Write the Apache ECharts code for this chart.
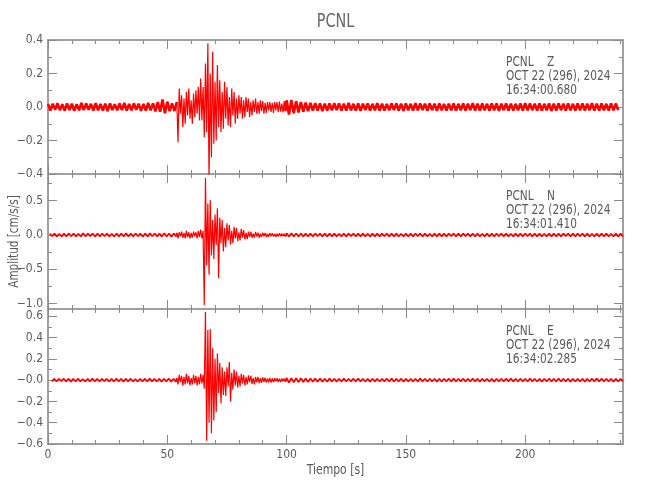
<!DOCTYPE html>
<html><head><meta charset="utf-8">
<script src="https://cdn.jsdelivr.net/npm/echarts@6/dist/echarts.min.js"></script>
<style>html,body{margin:0;padding:0;background:#fff}#c{width:650px;height:500px}</style>
</head><body><div id="c"></div>
<script>
// ---- Z component (start 0 s) ----
const zPre=[0.018,-0.021,0.02,-0.017,0.022,-0.019,0.016,-0.022,0.021,-0.018,
0.02,-0.023,0.017,-0.02,0.024,-0.019,0.021,-0.016,0.019,-0.022,
0.023,-0.02,0.018,-0.021,0.02,-0.024,0.022,-0.018,0.017,-0.02,
0.021,-0.019,0.025,-0.022,0.018,-0.02,0.022,-0.017,0.02,-0.023,
0.019,-0.021,0.024,-0.02,0.022,-0.026,0.03,-0.028,0.045,-0.038,
0.032,-0.025,0.022,-0.024];
const zEvt=[0.03,-0.21,0.11,-0.04,0.07,-0.12,0.05,-0.1,0.09,-0.05,0.11,-0.07,0.04,-0.1,0.08,-0.06,0.1,-0.04,0.12,-0.08,
0.17,-0.08,0.12,-0.18,0.26,-0.15,0.38,-0.44,0.2,-0.3,0.33,-0.22,0.15,-0.2,0.25,-0.12,0.16,-0.15,0.09,-0.13,
0.15,-0.07,0.12,-0.11,0.06,-0.12,0.11,-0.05,0.09,-0.1,0.05,-0.07,0.07,-0.04,0.06,-0.07,0.04,-0.06,0.06,-0.03,
0.05,-0.06,0.03,-0.05,0.04,-0.03,0.05,-0.04,0.03,-0.04,0.04,-0.025,0.035,-0.04,0.025,-0.035,0.03,-0.02,0.03,-0.03,
0.025,-0.035,0.03,-0.02,0.03,-0.03,0.032,-0.028,0.02,-0.033,0.035,-0.025];
const zPost=[0.04,-0.045,0.042,-0.038,0.035,-0.032,0.03,-0.028,0.026,-0.025,
0.024,-0.022,0.023,-0.021,0.022,-0.024,0.02,-0.022,0.021,-0.02,
0.023,-0.019,0.021,-0.022,0.02,-0.021,0.024,-0.02,0.019,-0.022,
0.021,-0.023,0.02,-0.018,0.022,-0.021,0.019,-0.02,0.023,-0.021,
0.02,-0.022,0.018,-0.02,0.021,-0.019,0.022,-0.021,0.02,-0.023,
0.022,-0.02,0.019,-0.021,0.023,-0.02,0.021,-0.018,0.02,-0.022,
0.021,-0.019,0.02,-0.023,0.022,-0.02,0.018,-0.021,0.02,-0.02,
0.022,-0.021,0.019,-0.02,0.021,-0.022,0.02,-0.019,0.023,-0.021,
0.02,-0.022,0.021,-0.02,0.019,-0.021,0.022,-0.02,0.021,-0.023,
0.02,-0.019,0.022,-0.021,0.02,-0.022,0.019,-0.02,0.021,-0.022,
0.023,-0.02,0.021,-0.019,0.02,-0.022,0.022,-0.021,0.019,-0.02,
0.021,-0.023,0.02,-0.021,0.022,-0.019,0.02,-0.022,0.021,-0.02,
0.019,-0.021,0.022,-0.02,0.021,-0.022,0.02,-0.019,0.023,-0.021,
0.02,-0.022,0.021,-0.02,0.019,-0.021,0.022,-0.02,0.021,-0.019];
// ---- N component (start 0.73 s) ----
const nPre=[0.02,-0.018,0.021,-0.02,0.017,-0.022,0.019,-0.02,0.022,-0.018,
0.02,-0.021,0.018,-0.02,0.023,-0.019,0.02,-0.017,0.021,-0.022,
0.019,-0.02,0.022,-0.018,0.02,-0.021,0.018,-0.023,0.021,-0.019,
0.02,-0.022,0.024,-0.02,0.019,-0.021,0.022,-0.018,0.02,-0.024,
0.021,-0.02,0.023,-0.019,0.022,-0.021,0.02,-0.023,0.025,-0.022,
0.021,-0.024,0.022,-0.02];
const nEvt=[0.03,-0.05,0.04,-0.02,0.05,-0.04,0.03,-0.05,0.06,-0.03,0.04,-0.05,0.03,-0.04,0.05,-0.02,0.04,-0.05,0.06,-0.03,0.08,-0.05,0.06,
-1.02,0.83,-0.44,0.46,-0.58,0.51,-0.3,0.22,-0.35,0.3,-0.15,0.39,-0.63,0.25,-0.12,0.22,-0.24,0.1,-0.18,0.17,-0.08,0.15,-0.14,0.06,-0.12,0.12,
-0.05,0.1,-0.09,0.04,-0.08,0.09,-0.04,0.07,-0.06,0.03,-0.06,0.05,-0.03,0.05,-0.04,0.02,-0.04,0.045,-0.025,0.035,-0.04,0.02,-0.03,0.035,
-0.02,0.03,-0.03,0.018,-0.025,0.028,-0.02,0.025,-0.022,0.02,-0.025,0.018,-0.022,0.025,-0.018,0.022,-0.02,0.018,-0.023];
const nPost=[0.024,-0.022,0.023,-0.021,0.022,-0.02,0.021,-0.022,0.02,-0.021,
0.019,-0.021,0.02,-0.018,0.021,-0.02,0.019,-0.021,0.02,-0.019,
0.021,-0.02,0.018,-0.02,0.019,-0.021,0.02,-0.018,0.021,-0.02,
0.019,-0.02,0.021,-0.019,0.018,-0.02,0.021,-0.019,0.02,-0.021,
0.02,-0.018,0.019,-0.021,0.02,-0.019,0.021,-0.02,0.018,-0.02,
0.021,-0.019,0.02,-0.021,0.019,-0.018,0.02,-0.021,0.019,-0.02,
0.018,-0.02,0.021,-0.019,0.02,-0.02,0.019,-0.021,0.02,-0.018,
0.02,-0.021,0.019,-0.02,0.021,-0.018,0.02,-0.019,0.021,-0.02,
0.019,-0.02,0.018,-0.021,0.02,-0.019,0.021,-0.02,0.019,-0.018,
0.02,-0.021,0.019,-0.02,0.018,-0.02,0.021,-0.019,0.02,-0.021,
0.019,-0.018,0.02,-0.021,0.019,-0.02,0.021,-0.019,0.018,-0.02,
0.02,-0.019,0.021,-0.02,0.019,-0.021,0.02,-0.018,0.019,-0.02,
0.021,-0.019,0.02,-0.018,0.02,-0.021,0.019,-0.02,0.018,-0.019,
0.02,-0.021,0.019,-0.02,0.021,-0.019,0.018,-0.02,0.02,-0.021,
0.019,-0.02];
// ---- E component (start 1.6 s) ----
const ePre=[-0.012,0.011,-0.013,0.012,-0.01,0.013,-0.012,0.011,-0.014,0.012,
-0.011,0.013,-0.012,0.01,-0.013,0.012,-0.011,0.014,-0.012,0.011,
-0.013,0.012,-0.01,0.012,-0.013,0.011,-0.012,0.013,-0.011,0.012,
-0.014,0.012,-0.011,0.013,-0.012,0.01,-0.013,0.012,-0.012,0.011,
-0.013,0.014,-0.012,0.011,-0.013,0.012,-0.014,0.013,-0.012,0.015,
-0.014,0.013,-0.016];
const eEvt=[0.02,-0.04,0.05,-0.02,0.04,-0.05,0.03,-0.04,0.06,-0.03,0.04,-0.05,0.02,-0.04,0.05,-0.03,0.04,-0.05,0.03,-0.04,
0.06,-0.03,0.05,-0.08,0.64,-0.57,0.47,-0.4,0.48,-0.5,0.3,-0.38,0.2,-0.3,0.25,-0.12,0.16,-0.22,0.12,-0.14,
0.08,-0.15,0.12,-0.06,0.17,-0.2,0.07,-0.09,0.1,-0.05,0.08,-0.07,0.04,-0.06,0.06,-0.03,0.05,-0.05,0.03,-0.04,
0.045,-0.02,0.04,-0.035,0.02,-0.04,0.03,-0.02,0.03,-0.028,0.018,-0.025,0.025,-0.015,0.022,-0.024,0.015,-0.02,0.02,-0.022,
0.015,-0.018,0.018,-0.012,0.018,-0.017,0.013,-0.018,0.016,-0.012,0.016,-0.015];
const ePost=[0.02,-0.022,0.019,-0.02,0.018,-0.019,0.017,-0.018,0.016,-0.017,
0.015,-0.016,0.014,-0.015,0.016,-0.014,0.013,-0.015,0.014,-0.013,
0.012,-0.014,0.013,-0.012,0.014,-0.013,0.012,-0.011,0.013,-0.012,
0.014,-0.012,0.011,-0.013,0.012,-0.014,0.013,-0.012,0.011,-0.013,
0.012,-0.011,0.013,-0.012,0.014,-0.013,0.012,-0.011,0.013,-0.014,
0.012,-0.013,0.011,-0.012,0.013,-0.012,0.014,-0.011,0.012,-0.013,
0.013,-0.012,0.011,-0.014,0.012,-0.013,0.012,-0.011,0.013,-0.012,
0.014,-0.013,0.012,-0.011,0.013,-0.012,0.011,-0.013,0.014,-0.012,
0.012,-0.014,0.013,-0.012,0.011,-0.013,0.012,-0.014,0.013,-0.012,
0.011,-0.012,0.013,-0.011,0.014,-0.013,0.012,-0.012,0.013,-0.011,
0.012,-0.013,0.014,-0.012,0.011,-0.013,0.012,-0.014,0.013,-0.012,
0.013,-0.011,0.012,-0.013,0.014,-0.012,0.011,-0.012,0.013,-0.014,
0.012,-0.013,0.011,-0.012,0.013,-0.014,0.012,-0.011,0.013,-0.012,
0.014,-0.012,0.013,-0.011,0.012,-0.013,0.011,-0.014,0.012,-0.013,
0.012,-0.011];
// segment start times and sample steps (s)
const zStart=0, nStart=0.73, eStart=1.6, evtStart=54, evtStep=0.5, postStart=100, quietStep=1;
// ---- axis values and labels ----
const xRange=[0,241];
const xMajor=[0,50,100,150,200];
const xMinor=[10,20,30,40,60,70,80,90,110,120,130,140,160,170,180,190,210,220,230,240];
const yRanges=[[-0.4,0.4],[-1.08,0.89],[-0.6,0.668]];
const yMajor=[[-0.4,-0.2,0,0.2,0.4],[-1,-0.5,0,0.5],[-0.6,-0.4,-0.2,0,0.2,0.4,0.6]];
const yMajorLabels=[['\u22120.4','\u22120.2','0.0','0.2','0.4'],['\u22121.0','\u22120.5','0.0','0.5'],['\u22120.6','\u22120.4','\u22120.2','\u22120.0','0.2','0.4','0.6']];
const yMinor=[[-0.3,-0.1,0.1,0.3],[-0.75,-0.25,0.25,0.75],[-0.5,-0.3,-0.1,0.1,0.3,0.5]];
const stationLabels=['PCNL    Z','PCNL    N','PCNL    E'];
const dateLabel='OCT 22 (296), 2024';
const timeLabels=['16:34:00.680','16:34:01.410','16:34:02.285'];
const titleText='PCNL', xName='Tiempo [s]', yName='Amplitud [cm/s/s]';

function seg(t0,step,vals){return vals.map((v,i)=>[Math.round((t0+i*step)*1000)/1000,v]);}
const traceParts=[
  [seg(zStart,quietStep,zPre),seg(evtStart,evtStep,zEvt),seg(postStart,quietStep,zPost)],
  [seg(nStart,quietStep,nPre),seg(evtStart,evtStep,nEvt),seg(postStart,quietStep,nPost)],
  [seg(eStart,quietStep,ePre),seg(evtStart,evtStep,eEvt),seg(postStart,quietStep,ePost)]
];

const FONT="'DejaVu Sans Condensed','DejaVu Sans',sans-serif";
const TXT='#5a5a5a', FRAME='#a0a0a0', TICK='#8a8a8a';
const tops=[40,174,309], heights=[134,135,135], quietWidth=[2.6,1.8,1.8];
const grids=[], xAxes=[], yAxes=[], series=[], graphics=[];
tops.forEach((t,g)=>{
  grids.push({left:48,right:27,top:t,height:heights[g],outerBoundsMode:'none',containLabel:false});
  const base={gridIndex:g,type:'value',min:xRange[0],max:xRange[1],splitLine:{show:false},
    axisLine:{show:false,onZero:false},axisLabel:{show:false}};
  const xi=xAxes.length;
  xAxes.push(Object.assign({},base,{position:'bottom',
    axisLine:{show:true,onZero:false,lineStyle:{color:FRAME,width:2}},
    axisTick:{show:true,inside:true,length:9,customValues:xMajor,lineStyle:{color:TICK,width:1}},
    axisLabel:{show:g===2,customValues:xMajor,margin:5,color:TXT,fontSize:12,fontFamily:FONT}}));
  xAxes.push(Object.assign({},base,{position:'bottom',
    axisTick:{show:true,inside:true,length:4,customValues:xMinor,lineStyle:{color:TICK,width:1}}}));
  xAxes.push(Object.assign({},base,{position:'top',
    axisLine:{show:true,onZero:false,lineStyle:{color:FRAME,width:2}},
    axisTick:{show:true,inside:true,length:9,customValues:xMajor,lineStyle:{color:TICK,width:1}}}));
  xAxes.push(Object.assign({},base,{position:'top',
    axisTick:{show:true,inside:true,length:4,customValues:xMinor,lineStyle:{color:TICK,width:1}}}));
  const yb={gridIndex:g,type:'value',min:yRanges[g][0],max:yRanges[g][1],splitLine:{show:false},
    axisLine:{show:false,onZero:false},axisLabel:{show:false}};
  const yi=yAxes.length;
  const labs=yMajor[g], txt=yMajorLabels[g];
  yAxes.push(Object.assign({},yb,{position:'left',
    axisLine:{show:true,onZero:false,lineStyle:{color:FRAME,width:2}},
    axisTick:{show:true,inside:true,length:9,customValues:yMajor[g],lineStyle:{color:TICK,width:1}},
    axisLabel:{show:true,customValues:yMajor[g],margin:5,color:TXT,fontSize:12,fontFamily:FONT,
      formatter:v=>{const k=labs.findIndex(a=>Math.abs(a-v)<1e-9);return k>=0?txt[k]:'';}}}));
  yAxes.push(Object.assign({},yb,{position:'left',
    axisTick:{show:true,inside:true,length:4,customValues:yMinor[g],lineStyle:{color:TICK,width:1}}}));
  yAxes.push(Object.assign({},yb,{position:'right',
    axisLine:{show:true,onZero:false,lineStyle:{color:FRAME,width:2}},
    axisTick:{show:true,inside:true,length:9,customValues:yMajor[g],lineStyle:{color:TICK,width:1}}}));
  yAxes.push(Object.assign({},yb,{position:'right',
    axisTick:{show:true,inside:true,length:4,customValues:yMinor[g],lineStyle:{color:TICK,width:1}}}));
  const [pre,evt,post]=traceParts[g];
  const common={type:'line',xAxisIndex:xi,yAxisIndex:yi,showSymbol:false,symbol:'none',silent:true,animation:false,z:1};
  // quiet parts drawn slightly heavier so the dense noise band reads as in the original
  series.push(Object.assign({},common,{data:pre.concat([evt[0]]),lineStyle:{color:'#ff0000',width:quietWidth[g]}}));
  series.push(Object.assign({},common,{data:evt,lineStyle:{color:'#ff0000',width:1.2}}));
  series.push(Object.assign({},common,{data:[evt[evt.length-1]].concat(post),lineStyle:{color:'#ff0000',width:quietWidth[g]}}));
  [stationLabels[g],dateLabel,timeLabels[g]].forEach((s,j)=>{
    graphics.push({type:'text',x:506,y:t+22+j*14,scaleX:0.84,scaleY:1,style:{text:s,fill:TXT,font:'14px '+FONT,
      textAlign:'left',textVerticalAlign:'middle',align:'left',verticalAlign:'middle'}});
  });
});
graphics.push({type:'text',x:335.5,y:22,scaleX:0.8,style:{text:titleText,fill:'#666',font:'20px '+FONT,
  textAlign:'center',textVerticalAlign:'middle',align:'center',verticalAlign:'middle'}});
graphics.push({type:'text',x:335.5,y:470,scaleX:0.86,style:{text:xName,fill:TXT,font:'14px '+FONT,
  textAlign:'center',textVerticalAlign:'middle',align:'center',verticalAlign:'middle'}});
graphics.push({type:'text',x:14,y:241.5,rotation:Math.PI/2,scaleX:0.83,style:{text:yName,fill:TXT,font:'14px '+FONT,
  textAlign:'center',textVerticalAlign:'middle',align:'center',verticalAlign:'middle'}});

const chart=echarts.init(document.getElementById('c'),null,{renderer:'canvas'});
chart.setOption({animation:false,backgroundColor:'#fff',grid:grids,xAxis:xAxes,yAxis:yAxes,series:series,graphic:graphics});
</script></body></html>
